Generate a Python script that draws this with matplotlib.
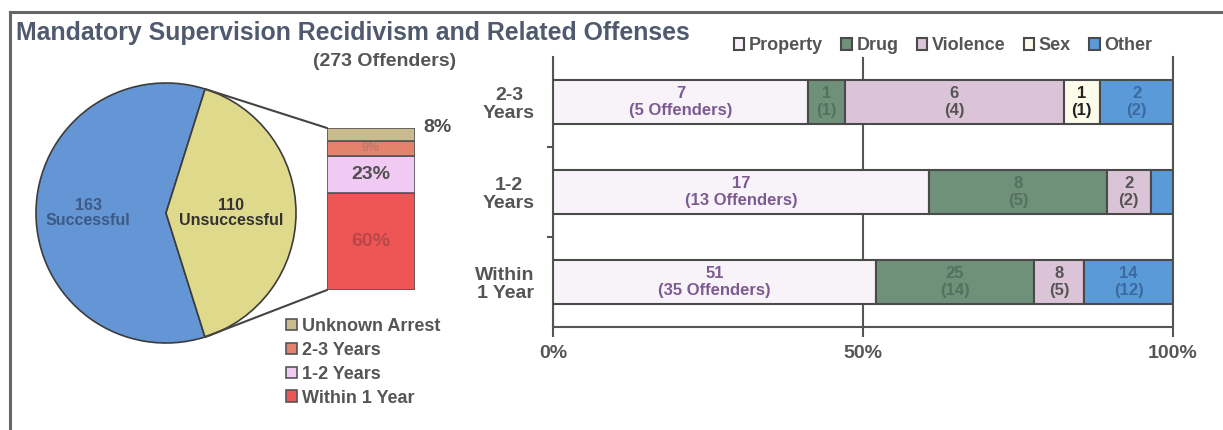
import matplotlib.pyplot as plt
import numpy as np
from matplotlib.patches import ConnectionPatch
from matplotlib.lines import Line2D

plt.rcParams['font.family'] = ['Liberation Sans', 'DejaVu Sans']
plt.rcParams['font.weight'] = 'bold'

# pie: outcome of all offenders
pie_labels = ['Successful', 'Unsuccessful']
pie_values = [163, 110]
pie_colors = ['#6496d6', '#dfd98c']

# breakdown of unsuccessful (share in %)
time_labels = ['Within 1 Year', '1-2 Years', '2-3 Years', 'Unknown Arrest']
time_pct = [60, 23, 9, 8]
time_colors = ['#ee5555', '#f0caf2', '#e4826e', '#c9bb8e']

# related offenses by time to recidivism (bottom to top)
rows = ['Within\n1 Year', '1-2\nYears', '2-3\nYears']
offense_types = ['Property', 'Drug', 'Violence', 'Sex', 'Other']
offense_counts = {
    'Property': [51, 17, 7],
    'Drug': [25, 8, 1],
    'Violence': [8, 2, 6],
    'Sex': [0, 0, 1],
    'Other': [14, 1, 2],
}
offender_counts = {
    'Property': [35, 13, 5],
    'Drug': [14, 5, 1],
    'Violence': [5, 2, 4],
    'Sex': [0, 0, 1],
    'Other': [12, 1, 2],
}
offense_colors = ['#f7f3f9', '#6f9079', '#dcc4d8', '#fdfbea', '#5b9ad8']
label_colors = ['#7d5a92', '#56705e', '#555555', '#222222', '#3a6aa0']

TXT = '#555555'
EDGE = '#4a4a4a'
W, H = 1223, 430

fig = plt.figure(figsize=(W / 100, H / 100), dpi=100)


def box(x0, y_top, w, h):
    # pixel box (from top-left) -> figure fraction rect
    return [x0 / W, 1 - (y_top + h) / H, w / W, h / H]


# frame of the scanned page
fig.add_artist(Line2D([10 / W, 10 / W], [0, 1 - 12 / H], color='#666666', lw=2.2))
fig.add_artist(Line2D([10 / W, 1], [1 - 12 / H, 1 - 12 / H], color='#666666', lw=2.2))

fig.text(16 / W, 1 - 33 / H, 'Mandatory Supervision Recidivism and Related Offenses',
         fontsize=17.9, color='#505a6e', va='center', ha='left')
fig.text(385 / W, 1 - 61 / H, '(273 Offenders)', fontsize=14, color=TXT,
         ha='center', va='center')

# ---- pie
ax_pie = fig.add_axes(box(16, 63, 300, 300))
wedges, _ = ax_pie.pie(pie_values, colors=pie_colors, startangle=72.5,
                       wedgeprops=dict(edgecolor='#3c3c3c', linewidth=1.2))
ax_pie.set_xlim(-150 / 130, 150 / 130)
ax_pie.set_ylim(-150 / 130, 150 / 130)
for w, lab, val, r, col in zip(wedges, pie_labels, pie_values, [0.6, 0.5], ['#3d5a86', '#333333']):
    ang = np.deg2rad((w.theta1 + w.theta2) / 2)
    ax_pie.text(r * np.cos(ang), r * np.sin(ang), '%d\n%s' % (val, lab), ha='center',
                va='center', fontsize=11.5, color=col, linespacing=1.05)

# ---- small stacked bar
ax_sb = fig.add_axes(box(327, 128, 88, 162))
bottom = 0
sb_bars = []
for lab, pct, col in zip(time_labels, time_pct, time_colors):
    b = ax_sb.bar(0, pct, bottom=bottom, width=1, color=col, edgecolor='#555555',
                  linewidth=1.2, label=lab)
    sb_bars.append(b)
    bottom += pct
ax_sb.set_xlim(-0.5, 0.5)
ax_sb.set_ylim(0, 100)
ax_sb.axis('off')
cum = np.cumsum([0] + time_pct)
ax_sb.text(0, cum[0] + time_pct[0] / 2, '%d%%' % time_pct[0], ha='center', va='center',
           fontsize=14, color='#b84848')
ax_sb.text(0, cum[1] + time_pct[1] / 2, '%d%%' % time_pct[1], ha='center', va='center',
           fontsize=14, color='#505050')
ax_sb.text(0, cum[2] + time_pct[2] / 2, '%d%%' % time_pct[2], ha='center', va='center',
           fontsize=9, color='#c07a6a')
ax_sb.text(0.6, cum[4], '%d%%' % time_pct[3], ha='left', va='center',
           fontsize=14, color='#505050', clip_on=False)

# lines from the unsuccessful wedge to the bar
uw = wedges[1]
for ang, ya in [(uw.theta2, 1), (uw.theta1, 0)]:
    t = np.deg2rad(ang)
    con = ConnectionPatch(xyA=(np.cos(t), np.sin(t)), coordsA=ax_pie.transData,
                          xyB=(0, ya), coordsB=ax_sb.transAxes, color='#444444', lw=1.5)
    fig.add_artist(con)

handles = [b[0] for b in sb_bars][::-1]
fig.legend(handles, time_labels[::-1], loc='upper left',
           bbox_to_anchor=(286 / W, 1 - 318 / H), frameon=False, fontsize=13,
           labelcolor=TXT, handlelength=0.6, handleheight=0.6, handletextpad=0.3,
           labelspacing=0.38, borderaxespad=0, borderpad=0)

# ---- 100% stacked horizontal bars
ax = fig.add_axes(box(553, 57, 620, 270))
y = np.arange(len(rows))
totals = np.sum([offense_counts[k] for k in offense_types], axis=0)
left = np.zeros(len(rows))
bars = []
for name, col, tcol in zip(offense_types, offense_colors, label_colors):
    vals = np.array(offense_counts[name])
    share = vals / totals * 100
    b = ax.barh(y, share, left=left, height=0.49, color=col, edgecolor=EDGE,
                linewidth=1.5, label=name, zorder=3)
    bars.append(b)
    for i in range(len(rows)):
        if share[i] < 5:
            continue
        if name == 'Property':
            txt = '%d\n(%d Offenders)' % (vals[i], offender_counts[name][i])
        else:
            txt = '%d\n(%d)' % (vals[i], offender_counts[name][i])
        ax.text(left[i] + share[i] / 2, y[i], txt, ha='center', va='center',
                fontsize=12, color=tcol, linespacing=1.15, zorder=4)
    left += share

ax.set_xlim(0, 100)
ax.set_ylim(-0.5, len(rows) - 0.5)
ax.set_xticks([0, 50, 100], ['0%', '50%', '100%'])
ax.set_yticks(y, rows, multialignment='center', linespacing=1.1)
ax.set_yticks([0.5, 1.5], minor=True)
ax.tick_params(axis='y', which='major', length=0, pad=13, labelsize=14, labelcolor=TXT)
ax.tick_params(axis='y', which='minor', length=4, width=1.5, color='#555555', direction='out')
ax.tick_params(axis='x', length=7, width=1.5, color='#555555', pad=6, labelsize=14,
               labelcolor=TXT)
ax.grid(axis='x', color='#555555', lw=1.5, zorder=0)
for s in ['left', 'bottom', 'right']:
    ax.spines[s].set_color('#555555')
    ax.spines[s].set_linewidth(1.5)
ax.spines['top'].set_visible(False)

fig.legend([b[0] for b in bars], offense_types, loc='center', ncol=5,
           bbox_to_anchor=(943 / W, 1 - 46 / H), frameon=False, fontsize=13,
           labelcolor=TXT, handlelength=0.6, handleheight=0.6, handletextpad=0.25,
           columnspacing=1.0, borderaxespad=0, borderpad=0)

fig.savefig('out.png', dpi=100)
